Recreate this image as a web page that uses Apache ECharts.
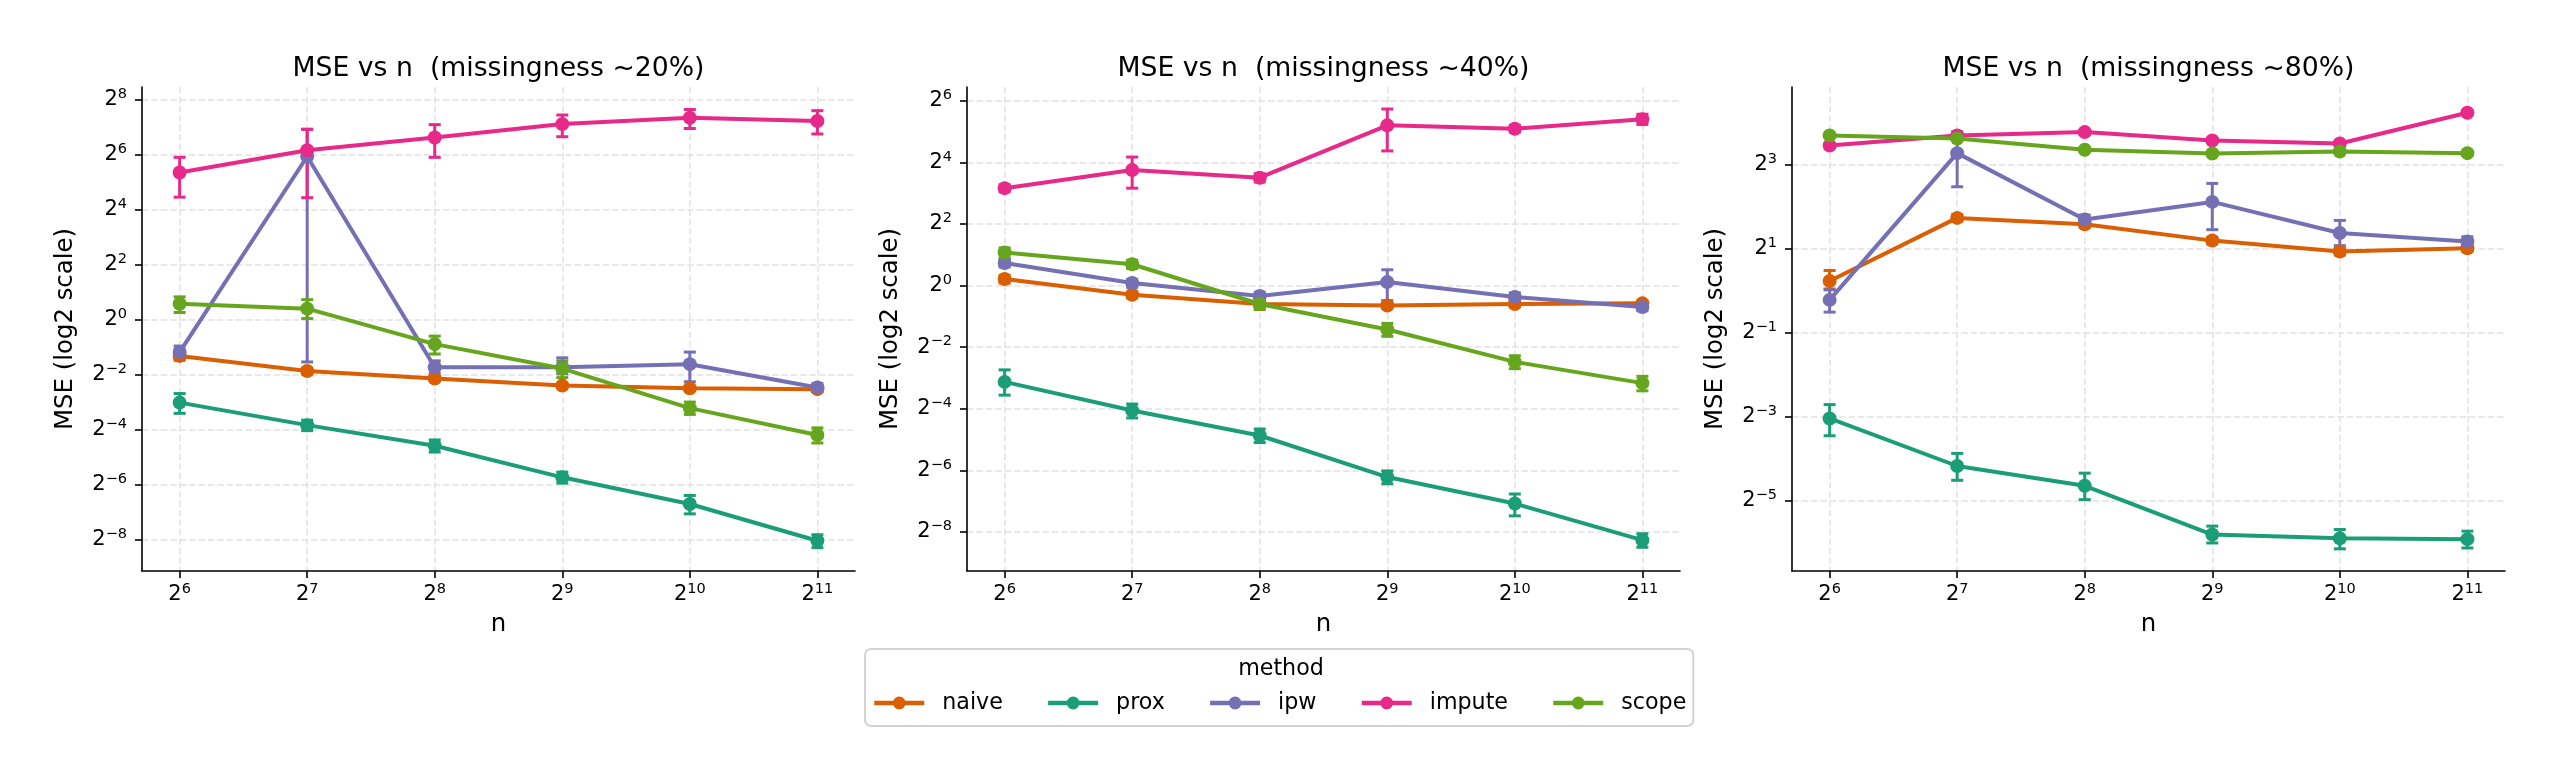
<!DOCTYPE html>
<html>
<head>
<meta charset="utf-8">
<script src="https://cdn.jsdelivr.net/npm/echarts@6/dist/echarts.min.js"></script>
<style>
html,body{margin:0;padding:0;background:#fff}
#main{width:2560px;height:782px}
</style>
</head>
<body>
<div id="main"></div>
<script>
// sample sizes (x axis is log2 n)
var nValues = [64, 128, 256, 512, 1024, 2048];
var methods = ['naive', 'prox', 'ipw', 'impute', 'scope'];
var colors = ['#d95f02', '#1b9e77', '#7570b3', '#e7298a', '#66a61e'];
var panelTitles = ['MSE vs n  (missingness ~20%)', 'MSE vs n  (missingness ~40%)', 'MSE vs n  (missingness ~80%)'];

// all values below are log2(MSE); lo/hi are error bar ends
var naive20 = [-1.32, -1.87, -2.14, -2.40, -2.50, -2.53];
var naive20Lo = [-1.48, -1.98, -2.24, -2.49, -2.59, -2.62];
var naive20Hi = [-1.18, -1.77, -2.05, -2.32, -2.42, -2.45];
var prox20 = [-3.02, -3.84, -4.59, -5.74, -6.71, -8.05];
var prox20Lo = [-3.41, -4.04, -4.82, -5.95, -7.07, -8.30];
var prox20Hi = [-2.69, -3.66, -4.38, -5.55, -6.40, -7.83];
var ipw20 = [-1.18, 5.94, -1.73, -1.73, -1.62, -2.47];
var ipw20Lo = [-1.39, -1.54, -1.95, -1.97, -2.26, -2.62];
var ipw20Hi = [-0.96, 6.93, -1.50, -1.39, -1.18, -2.32];
var impute20 = [5.36, 6.17, 6.63, 7.12, 7.35, 7.23];
var impute20Lo = [4.46, 4.44, 5.91, 6.66, 6.96, 6.76];
var impute20Hi = [5.91, 6.93, 7.10, 7.45, 7.65, 7.61];
var scope20 = [0.58, 0.40, -0.89, -1.78, -3.22, -4.20];
var scope20Lo = [0.26, 0.04, -1.25, -2.11, -3.45, -4.49];
var scope20Hi = [0.83, 0.73, -0.60, -1.50, -3.00, -3.94];

var naive40 = [0.21, -0.30, -0.60, -0.65, -0.60, -0.58];
var naive40Lo = [0.08, -0.40, -0.70, -0.74, -0.69, -0.67];
var naive40Hi = [0.33, -0.21, -0.51, -0.57, -0.52, -0.50];
var prox40 = [-3.13, -4.06, -4.87, -6.22, -7.08, -8.27];
var prox40Lo = [-3.56, -4.30, -5.10, -6.44, -7.48, -8.50];
var prox40Hi = [-2.74, -3.85, -4.66, -6.02, -6.77, -8.06];
var ipw40 = [0.73, 0.08, -0.34, 0.11, -0.37, -0.70];
var ipw40Lo = [0.60, -0.06, -0.46, -0.49, -0.52, -0.82];
var ipw40Hi = [0.85, 0.20, -0.22, 0.51, -0.24, -0.58];
var impute40 = [3.16, 3.75, 3.50, 5.20, 5.09, 5.40];
var impute40Lo = [3.04, 3.16, 3.36, 4.37, 4.98, 5.23];
var impute40Hi = [3.27, 4.17, 3.63, 5.73, 5.20, 5.56];
var scope40 = [1.07, 0.69, -0.60, -1.43, -2.48, -3.17];
var scope40Lo = [0.90, 0.55, -0.78, -1.65, -2.70, -3.42];
var scope40Hi = [1.22, 0.82, -0.44, -1.23, -2.28, -2.95];

var naive80 = [0.23, 1.73, 1.58, 1.19, 0.93, 1.01];
var naive80Lo = [0.04, 1.65, 1.50, 1.11, 0.85, 0.93];
var naive80Hi = [0.48, 1.81, 1.66, 1.27, 1.01, 1.09];
var prox80 = [-3.04, -4.17, -4.64, -5.80, -5.89, -5.91];
var prox80Lo = [-3.45, -4.51, -4.97, -6.00, -6.14, -6.12];
var prox80Hi = [-2.71, -3.87, -4.34, -5.60, -5.68, -5.72];
var ipw80 = [-0.22, 3.27, 1.69, 2.11, 1.37, 1.17];
var ipw80Lo = [-0.51, 2.47, 1.58, 1.45, 1.07, 1.06];
var ipw80Hi = [0.02, 3.78, 1.80, 2.55, 1.67, 1.28];
var impute80 = [3.45, 3.69, 3.77, 3.57, 3.50, 4.23];
var impute80Lo = [3.40, 3.64, 3.72, 3.52, 3.45, 4.18];
var impute80Hi = [3.50, 3.74, 3.82, 3.62, 3.55, 4.28];
var scope80 = [3.69, 3.62, 3.35, 3.26, 3.31, 3.27];
var scope80Lo = [3.65, 3.58, 3.31, 3.22, 3.27, 3.23];
var scope80Hi = [3.73, 3.66, 3.39, 3.30, 3.35, 3.31];

// tick exponents
var xTicks = [6, 7, 8, 9, 10, 11];
var yTicks20 = [-8, -6, -4, -2, 0, 2, 4, 6, 8];
var yTicks40 = [-8, -6, -4, -2, 0, 2, 4, 6];
var yTicks80 = [-5, -3, -1, 1, 3];

var panels = [
    {vals: [naive20, prox20, ipw20, impute20, scope20], lo: [naive20Lo, prox20Lo, ipw20Lo, impute20Lo, scope20Lo],
     hi: [naive20Hi, prox20Hi, ipw20Hi, impute20Hi, scope20Hi], yTicks: yTicks20, yMin: -9.15, yMax: 8.47, left: 142},
    {vals: [naive40, prox40, ipw40, impute40, scope40], lo: [naive40Lo, prox40Lo, ipw40Lo, impute40Lo, scope40Lo],
     hi: [naive40Hi, prox40Hi, ipw40Hi, impute40Hi, scope40Hi], yTicks: yTicks40, yMin: -9.27, yMax: 6.445, left: 967},
    {vals: [naive80, prox80, ipw80, impute80, scope80], lo: [naive80Lo, prox80Lo, ipw80Lo, impute80Lo, scope80Lo],
     hi: [naive80Hi, prox80Hi, ipw80Hi, impute80Hi, scope80Hi], yTicks: yTicks80, yMin: -6.667, yMax: 4.843, left: 1792}
];

var FONT = 'DejaVu Sans';
var gridW = 713, gridTop = 87, gridH = 484;

function powLabel(v) {
    var k = Math.round(v);
    return '{b|2}{s|' + (k < 0 ? '\u2212' + (-k) : k) + '}';
}
var powRich = {
    b: {fontSize: 21, fontFamily: FONT, color: '#000', lineHeight: 26},
    s: {fontSize: 14.5, fontFamily: FONT, color: '#000', lineHeight: 15, verticalAlign: 'top'}
};
var gridLine = {show: true, lineStyle: {color: '#e2e2e2', width: 1.5, type: [6.6, 2.8]}};

function renderErr(params, api) {
    var x = api.value(0);
    var p1 = api.coord([x, api.value(1)]);
    var p2 = api.coord([x, api.value(2)]);
    var cap = 6;
    var style = {stroke: api.visual('color'), lineWidth: 3};
    return {
        type: 'group',
        children: [
            {type: 'line', shape: {x1: p1[0], y1: p1[1], x2: p2[0], y2: p2[1]}, style: style},
            {type: 'line', shape: {x1: p1[0] - cap, y1: p1[1], x2: p1[0] + cap, y2: p1[1]}, style: style},
            {type: 'line', shape: {x1: p2[0] - cap, y1: p2[1], x2: p2[0] + cap, y2: p2[1]}, style: style}
        ]
    };
}

var grids = [], xAxes = [], yAxes = [], series = [], graphics = [];
for (var i = 0; i < panels.length; i++) {
    var p = panels[i];
    grids.push({left: p.left, top: gridTop, width: gridW, height: gridH});
    xAxes.push({
        gridIndex: i, type: 'value', min: 5.705, max: 11.295,
        axisLine: {onZero: false, lineStyle: {color: '#000', width: 1.6}},
        axisTick: {length: 7, lineStyle: {color: '#000', width: 1.6}, customValues: xTicks},
        axisLabel: {customValues: xTicks, formatter: powLabel, rich: powRich, margin: 11},
        splitLine: gridLine
    });
    yAxes.push({
        gridIndex: i, type: 'value', min: p.yMin, max: p.yMax,
        axisLine: {show: true, onZero: false, lineStyle: {color: '#000', width: 1.6}},
        axisTick: {show: true, length: 7, lineStyle: {color: '#000', width: 1.6}, customValues: p.yTicks},
        axisLabel: {customValues: p.yTicks, formatter: powLabel, rich: powRich, margin: 15, align: 'right'},
        splitLine: gridLine
    });
    for (var m = 0; m < methods.length; m++) {
        var errData = [], lineData = [];
        for (var k = 0; k < nValues.length; k++) {
            var lx = Math.log2(nValues[k]);
            errData.push([lx, p.lo[m][k], p.hi[m][k]]);
            lineData.push([lx, p.vals[m][k]]);
        }
        series.push({
            type: 'custom', name: methods[m] + ' err', xAxisIndex: i, yAxisIndex: i,
            itemStyle: {color: colors[m]}, renderItem: renderErr,
            encode: {x: 0, y: [1, 2]}, data: errData, silent: true
        });
        series.push({
            type: 'line', name: methods[m], xAxisIndex: i, yAxisIndex: i,
            symbol: 'circle', symbolSize: 14, showSymbol: true,
            lineStyle: {color: colors[m], width: 4},
            itemStyle: {color: colors[m]},
            data: lineData
        });
    }
    var cx = p.left + gridW / 2;
    graphics.push({type: 'text', x: cx, y: 69.5, style: {text: panelTitles[i], font: '26.7px "DejaVu Sans"', fill: '#000', align: 'center', verticalAlign: 'middle'}});
    graphics.push({type: 'text', x: cx, y: 625, style: {text: 'n', font: '24.4px "DejaVu Sans"', fill: '#000', align: 'center', verticalAlign: 'middle'}});
    graphics.push({type: 'text', x: p.left - 76, y: gridTop + gridH / 2, rotation: Math.PI / 2,
        style: {text: 'MSE (log2 scale)', font: '24.4px "DejaVu Sans"', fill: '#000', align: 'center', verticalAlign: 'middle'}});
}
graphics.push({type: 'text', x: 1281, y: 669, z: 100, style: {text: 'method', font: '22.2px "DejaVu Sans"', fill: '#000', align: 'center', verticalAlign: 'middle'}});

var chart = echarts.init(document.getElementById('main'), null, {renderer: 'canvas'});
chart.setOption({
    animation: false,
    backgroundColor: '#fff',
    textStyle: {fontFamily: FONT},
    grid: grids,
    xAxis: xAxes,
    yAxis: yAxes,
    legend: {
        data: methods, left: 865, top: 649, itemWidth: 50, itemHeight: 16, itemGap: 43,
        padding: [43, 7, 12, 7], borderColor: '#d3d3d3', borderWidth: 2, borderRadius: 6,
        backgroundColor: '#fff', selectedMode: false,
        lineStyle: {width: 4.5},
        textStyle: {fontSize: 22.2, fontFamily: FONT, color: '#000', padding: [0, 0, 0, 13]}
    },
    graphic: graphics,
    series: series
});
</script>
</body>
</html>
